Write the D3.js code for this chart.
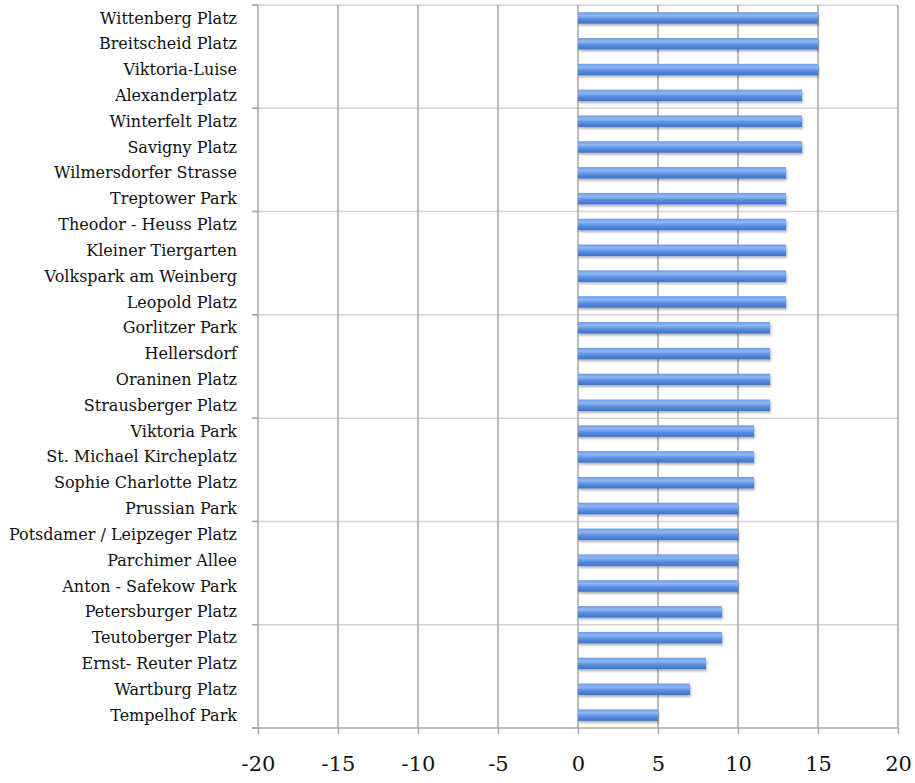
<!DOCTYPE html>
<html>
<head>
<meta charset="utf-8">
<script src="https://cdn.jsdelivr.net/npm/d3@7"></script>
<style>
  body { margin: 0; background: #fff; }
  text { font-family: "DejaVu Serif", serif; fill: #111; }
</style>
</head>
<body>
<div id="chart"></div>
<script>
const places = ["Wittenberg Platz", "Breitscheid Platz", "Viktoria-Luise", "Alexanderplatz",
  "Winterfelt Platz", "Savigny Platz", "Wilmersdorfer Strasse", "Treptower Park",
  "Theodor - Heuss Platz", "Kleiner Tiergarten", "Volkspark am Weinberg", "Leopold Platz",
  "Gorlitzer Park", "Hellersdorf", "Oraninen Platz", "Strausberger Platz",
  "Viktoria Park", "St. Michael Kircheplatz", "Sophie Charlotte Platz", "Prussian Park",
  "Potsdamer / Leipzeger Platz", "Parchimer Allee", "Anton - Safekow Park", "Petersburger Platz",
  "Teutoberger Platz", "Ernst- Reuter Platz", "Wartburg Platz", "Tempelhof Park"];
const counts = [15, 15, 15, 14, 14, 14, 13, 13, 13, 13, 13, 13, 12, 12, 12, 12,
  11, 11, 11, 10, 10, 10, 10, 9, 9, 8, 7, 5];
const xTicks = [-20, -15, -10, -5, 0, 5, 10, 15, 20];

const width = 915, height = 783;
const margin = {top: 5, right: 17, bottom: 55, left: 258};

const svg = d3.select("#chart").append("svg")
    .attr("width", width)
    .attr("height", height);

const x = d3.scaleLinear().domain([-20, 20]).range([margin.left, width - margin.right]);
const y = d3.scaleBand().domain(places).range([margin.top, height - margin.bottom]).paddingInner(0).paddingOuter(0);

const defs = svg.append("defs");
const grad = defs.append("linearGradient").attr("id", "barGrad")
    .attr("x1", 0).attr("y1", 0).attr("x2", 0).attr("y2", 1);
grad.append("stop").attr("offset", "0%").attr("stop-color", "#6b9be7");
grad.append("stop").attr("offset", "30%").attr("stop-color", "#8fb7f2");
grad.append("stop").attr("offset", "60%").attr("stop-color", "#5c8fe2");
grad.append("stop").attr("offset", "100%").attr("stop-color", "#3d72ca");

const shadow = defs.append("filter").attr("id", "shadow")
    .attr("x", "-5%").attr("y", "-50%").attr("width", "110%").attr("height", "220%");
shadow.append("feDropShadow").attr("dx", 1).attr("dy", 2).attr("stdDeviation", 1.3)
    .attr("flood-color", "#000").attr("flood-opacity", 0.3);

// horizontal light lines every 4 categories
const groupEdges = d3.range(0, places.length + 1, 4).map(i => margin.top + i * y.step());
svg.append("g").selectAll("line")
    .data(groupEdges.slice(0, -1))
    .enter().append("line")
    .attr("x1", margin.left - 6).attr("x2", x(20))
    .attr("y1", d => d).attr("y2", d => d)
    .attr("stroke", "#d4d4d4").attr("stroke-width", 1.5);

// vertical gridlines
svg.append("g").selectAll("line")
    .data(xTicks.slice(1))
    .enter().append("line")
    .attr("x1", d => x(d)).attr("x2", d => x(d))
    .attr("y1", margin.top).attr("y2", height - margin.bottom)
    .attr("stroke", "#a6a6a6").attr("stroke-width", 1.5);

// y axis line and ticks
svg.append("line")
    .attr("x1", margin.left).attr("x2", margin.left)
    .attr("y1", margin.top).attr("y2", height - margin.bottom)
    .attr("stroke", "#a6a6a6").attr("stroke-width", 1.5);
svg.append("g").selectAll("line")
    .data(groupEdges)
    .enter().append("line")
    .attr("x1", margin.left - 6).attr("x2", margin.left)
    .attr("y1", d => d).attr("y2", d => d)
    .attr("stroke", "#a6a6a6").attr("stroke-width", 1.5);

// bars
svg.append("g").selectAll("rect")
    .data(places)
    .enter().append("rect")
    .attr("x", x(0))
    .attr("y", d => y(d) + y.bandwidth() / 2 - 5.75)
    .attr("width", (d, i) => x(counts[i]) - x(0))
    .attr("height", 11.5)
    .attr("fill", "url(#barGrad)")
    .attr("filter", "url(#shadow)");

// x axis
const xAxis = svg.append("g")
    .attr("transform", `translate(0,${height - margin.bottom})`)
    .call(d3.axisBottom(x).tickValues(xTicks).tickFormat(d => String(d))
        .tickSize(6).tickPadding(22).tickSizeOuter(0));
xAxis.select(".domain").attr("stroke", "#a6a6a6").attr("stroke-width", 1.5)
    .attr("d", `M${margin.left - 6},0H${x(20)}`);
xAxis.selectAll(".tick line").attr("stroke", "#a6a6a6").attr("stroke-width", 1.5);
xAxis.selectAll(".tick text").style("font-size", "21px")
    .style("font-family", "DejaVu Serif, serif").attr("fill", "#111");

// y labels
svg.append("g").selectAll("text")
    .data(places)
    .enter().append("text")
    .attr("x", margin.left - 21)
    .attr("y", d => y(d) + y.bandwidth() / 2)
    .attr("dy", "0.35em")
    .attr("text-anchor", "end")
    .style("font-size", "16px")
    .text(d => d);
</script>
</body>
</html>
